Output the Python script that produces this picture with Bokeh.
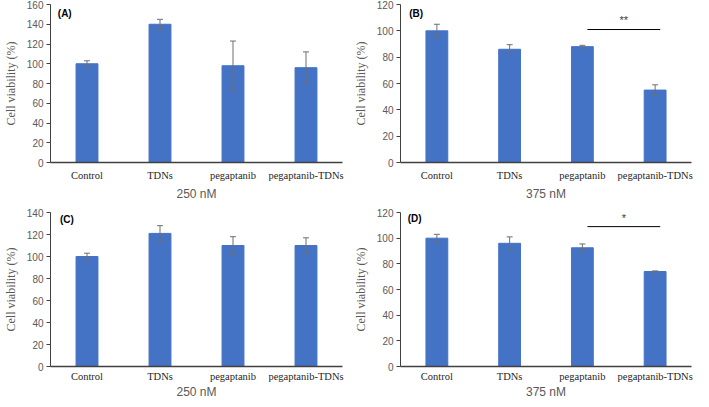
from bokeh.plotting import figure
from bokeh.layouts import gridplot
from bokeh.models import ColumnDataSource, Whisker, TeeHead, Label, Range1d, FactorRange, SingleIntervalTicker
from bokeh.embed import file_html
from bokeh.resources import INLINE

categories = ["Control", "TDNs", "pegaptanib", "pegaptanib-TDNs"]

a_vals = [100, 140, 98, 96]
a_err = [3, 5, 25, 16]
b_vals = [100, 86, 88, 55]
b_err = [5, 3.5, 1, 4]
c_vals = [100, 121, 110, 110]
c_err = [3, 7, 8, 7]
d_vals = [100, 96, 92.5, 74]
d_err = [3, 5, 3, 0.5]

panel_names = ["(A)", "(B)", "(C)", "(D)"]
x_titles = ["250 nM", "375 nM", "250 nM", "375 nM"]
y_max = [160, 120, 140, 120]
y_step = 20

# significance annotations: (from category, to category, line value, star text, star value)
sig_b = ("pegaptanib", "pegaptanib-TDNs", 101, "**", 108)
sig_d = ("pegaptanib", "pegaptanib-TDNs", 109, "*", 116)

BAR = "#4472C4"
ERR = "#6f6f6f"
TICK = "#595959"


def make_panel(vals, errs, name, xtitle, ymax, width, height, bl, br, bt, bb, lab_standoff, title_standoff,
               label_pos, sig=None):
    p = figure(x_range=FactorRange(*categories, range_padding=0), y_range=Range1d(0, ymax),
               width=width, height=height, output_backend="svg", toolbar_location=None,
               min_border_left=bl, min_border_right=br, min_border_top=bt, min_border_bottom=bb)
    p.outline_line_color = None
    p.xgrid.visible = False
    p.ygrid.visible = False
    src = ColumnDataSource(dict(cat=categories, val=vals,
                                up=[v + e for v, e in zip(vals, errs)],
                                lo=[v - e for v, e in zip(vals, errs)]))
    p.vbar(x="cat", top="val", width=0.3, source=src, fill_color=BAR, line_color=BAR)
    w = Whisker(base="cat", upper="up", lower="lo", source=src, line_color=ERR, line_width=1,
                level="overlay",
                upper_head=TeeHead(size=6, line_color=ERR, line_width=1),
                lower_head=TeeHead(size=6, line_color=ERR, line_width=1))
    p.add_layout(w)

    p.yaxis.ticker = SingleIntervalTicker(interval=y_step)
    p.yaxis.axis_line_color = "#404040"
    p.yaxis.major_tick_line_color = "#404040"
    p.yaxis.major_tick_out = 4
    p.yaxis.major_tick_in = 0
    p.yaxis.minor_tick_line_color = None
    p.yaxis.major_label_text_font = "Liberation Sans"
    p.yaxis.major_label_text_font_size = "10px"
    p.yaxis.major_label_text_color = TICK
    p.yaxis.major_label_standoff = 3
    p.yaxis.axis_label = "Cell viability (%)"
    p.yaxis.axis_label_text_font = "Liberation Serif"
    p.yaxis.axis_label_text_font_style = "normal"
    p.yaxis.axis_label_text_font_size = "12px"
    p.yaxis.axis_label_text_color = TICK
    p.yaxis.axis_label_standoff = 6

    p.xaxis.axis_line_color = "#404040"
    p.xaxis.axis_line_width = 1.5
    p.xaxis.major_tick_line_color = None
    p.xaxis.major_tick_out = 0
    p.xaxis.major_label_text_font = "Liberation Serif"
    p.xaxis.major_label_text_font_size = "10.5px"
    p.xaxis.major_label_text_color = "#262626"
    p.xaxis.major_label_standoff = lab_standoff
    p.xaxis.axis_label = xtitle
    p.xaxis.axis_label_text_font = "Liberation Sans"
    p.xaxis.axis_label_text_font_style = "normal"
    p.xaxis.axis_label_text_font_size = "12px"
    p.xaxis.axis_label_text_color = TICK
    p.xaxis.axis_label_standoff = title_standoff

    lx, ly = label_pos
    p.add_layout(Label(x=lx, y=ly, text=name, text_font="Liberation Sans", text_font_style="bold",
                       text_font_size="10px", text_color="black", text_baseline="middle"))
    if sig is not None:
        c_from, c_to, line_y, star, star_y = sig
        x0 = categories.index(c_from) + 0.57
        x1 = categories.index(c_to) + 0.57
        p.segment(x0=[x0], y0=[line_y], x1=[x1], y1=[line_y], line_color="black", line_width=1)
        p.add_layout(Label(x=(x0 + x1) / 2, y=star_y, text=star, text_font="Liberation Sans",
                           text_font_size="11px", text_color="#404040", text_align="center",
                           text_baseline="middle"))
    return p


pa = make_panel(a_vals, a_err, panel_names[0], x_titles[0], y_max[0], 350, 203, 42, 8, 4, 10, 7, 3, (0.1, 151))
pb = make_panel(b_vals, b_err, panel_names[1], x_titles[1], y_max[1], 343, 203, 42, 2, 4, 10, 7, 3, (0.12, 113), sig_b)
pc = make_panel(c_vals, c_err, panel_names[2], x_titles[2], y_max[2], 350, 198, 42, 8, 9, 10, 4, 0, (0.13, 134))
pd = make_panel(d_vals, d_err, panel_names[3], x_titles[3], y_max[3], 343, 198, 42, 2, 9, 10, 4, 0, (0.1, 115), sig_d)

grid = gridplot([[pa, pb], [pc, pd]], toolbar_location=None)

open("out.html", "w").write(file_html(grid, INLINE))
